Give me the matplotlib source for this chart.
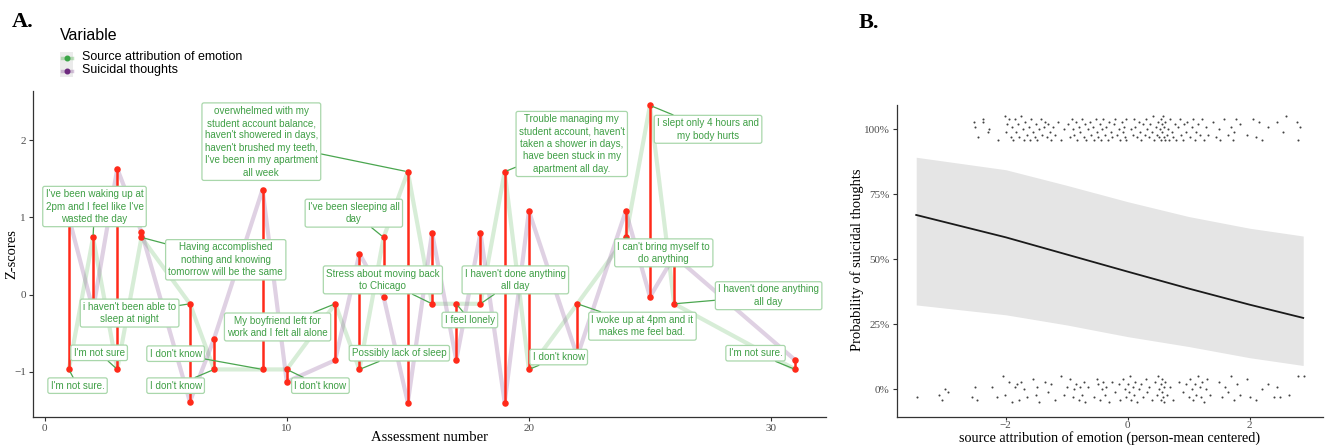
import matplotlib
matplotlib.use("Agg")
import matplotlib.pyplot as plt
from matplotlib.lines import Line2D
from matplotlib.patches import Rectangle

# ---------------- Panel A data ----------------
assessment = [1, 2, 3, 4, 6, 7, 9, 10, 12, 13, 14, 15, 16, 17, 18, 19, 20, 22, 24, 25, 26, 31]
source_attr = [-0.97, 0.74, -0.97, 0.74, -0.12, -0.97, -0.97, -0.97, -0.12, -0.97, 0.74,
               1.59, -0.12, -0.12, -0.12, 1.59, -0.97, -0.12, 0.74, 2.45, -0.12, -0.97]
suicidal = [1.00, -0.20, 1.63, 0.81, -1.39, -0.57, 1.36, -1.13, -0.85, 0.53, -0.03,
            -1.40, 0.80, -0.85, 0.80, -1.40, 1.08, -0.80, 1.08, -0.03, 0.50, -0.85]

# labelled responses (attached to the source-attribution point of an assessment)
label_assessment = [2, 1, 3, 6, 4, 9, 7, 15, 12, 10, 14, 16, 13, 17, 18, 19, 20, 22, 24, 25, 26, 31]
label_text = [
    "I've been waking up at\n2pm and I feel like I've\nwasted the day",
    "I'm not sure.",
    "I'm not sure",
    "i haven't been able to\nsleep at night",
    "Having accomplished\nnothing and knowing\ntomorrow will be the same",
    "I don't know",
    "I don't know",
    "overwhelmed with my\nstudent account balance,\nhaven't showered in days,\nhaven't brushed my teeth,\nI've been in my apartment\nall week",
    "My boyfriend left for\nwork and I felt all alone",
    "I don't know",
    "I've been sleeping all\nday",
    "Stress about moving back\nto Chicago",
    "Possibly lack of sleep",
    "I feel lonely",
    "I haven't done anything\nall day",
    "Trouble managing my\nstudent account, haven't\ntaken a shower in days,\nhave been stuck in my\napartment all day.",
    "I don't know",
    "I woke up at 4pm and it\nmakes me feel bad.",
    "I can't bring myself to\ndo anything",
    "I slept only 4 hours and\nmy body hurts",
    "I haven't done anything\nall day",
    "I'm not sure.",
]
# label box centres (layout, data coordinates)
label_pos = [(2.06, 1.14), (1.36, -1.18), (2.25, -0.755), (3.51, -0.24), (7.48, 0.45),
             (5.41, -0.766), (5.41, -1.18), (8.95, 1.98), (9.62, -0.42), (11.39, -1.18),
             (12.77, 1.054), (13.97, 0.19), (14.65, -0.76), (17.56, -0.33), (19.44, 0.19),
             (21.77, 1.95), (21.23, -0.81), (24.69, -0.41), (25.57, 0.54), (27.40, 2.14),
             (29.90, -0.015), (29.36, -0.76)]

# ---------------- Panel B data ----------------
fit_x = [-3.47, -2.0, -1.0, 0.0, 1.0, 2.0, 2.88]
fit_p = [0.671, 0.585, 0.519, 0.453, 0.388, 0.326, 0.275]
fit_lo = [0.325, 0.287, 0.248, 0.203, 0.165, 0.122, 0.092]
fit_hi = [0.893, 0.845, 0.785, 0.722, 0.665, 0.620, 0.590]

top_x = [-2.52, -2.50, -2.45, -2.38, -2.37, -2.30, -2.28, -2.12,
         -2.02, -2.00, -1.98, -1.95, -1.92, -1.90, -1.88, -1.85, -1.83, -1.80, -1.78, -1.75, -1.72, -1.70,
         -1.68, -1.65, -1.62, -1.60, -1.58, -1.55, -1.52, -1.50, -1.48, -1.45, -1.43, -1.40, -1.38, -1.35,
         -1.33, -1.30, -1.28, -1.25, -1.22, -1.20, -1.15, -1.10, -1.05,
         -0.98, -0.95, -0.92, -0.90, -0.88, -0.85, -0.83, -0.80, -0.78, -0.75, -0.72, -0.70, -0.68, -0.65,
         -0.62, -0.60, -0.57, -0.55, -0.52, -0.50, -0.48, -0.46, -0.44, -0.42, -0.40, -0.38, -0.35, -0.33,
         -0.30, -0.28, -0.25, -0.22, -0.20, -0.18, -0.15, -0.12, -0.10, -0.08, -0.06, -0.05, -0.03, -0.02,
         0.05, 0.08, 0.10, 0.12, 0.15, 0.18, 0.20, 0.22, 0.25, 0.28, 0.30, 0.32, 0.35, 0.37, 0.40, 0.42,
         0.44, 0.46, 0.48, 0.50, 0.52, 0.53, 0.54, 0.55, 0.56, 0.57, 0.58, 0.59, 0.60, 0.61, 0.62, 0.64,
         0.66, 0.68, 0.70, 0.72, 0.75, 0.78, 0.80, 0.83, 0.86, 0.88, 0.90, 0.93, 0.96, 0.98, 1.02, 1.05,
         1.08, 1.10, 1.12, 1.15, 1.18, 1.22, 1.25, 1.28, 1.32, 1.40, 1.45, 1.50, 1.52, 1.58, 1.65, 1.70,
         1.72, 1.75, 1.78, 1.85, 1.95, 2.05, 2.10, 2.15, 2.20, 2.30, 2.45, 2.55, 2.60, 2.78, 2.80, 2.82]
top_y = [1.03, 1.01, 0.97, 1.04, 1.03, 0.99, 1.00, 0.96,
         1.05, 0.99, 1.02, 1.04, 0.97, 1.01, 0.96, 1.04, 0.99, 1.02, 0.97, 1.05, 1.00, 0.96,
         1.03, 0.98, 1.01, 0.96, 1.04, 0.99, 0.97, 1.02, 0.96, 1.00, 1.04, 0.98, 1.01, 1.03,
         0.97, 1.02, 0.99, 0.96, 1.01, 0.98, 1.03, 0.96, 1.00,
         1.02, 0.97, 1.04, 1.00, 0.98, 1.03, 0.96, 1.01, 0.99, 1.04, 0.97, 1.02, 0.96, 1.00,
         1.03, 0.98, 1.01, 0.96, 1.04, 0.99, 0.97, 1.02, 0.96, 1.00, 1.04, 0.98, 1.01, 0.96,
         1.03, 0.99, 0.97, 1.02, 1.04, 0.98, 1.00, 0.96, 1.03, 0.99, 1.01, 0.97, 1.04, 0.96,
         1.00, 0.98, 1.04, 1.01, 0.97, 1.03, 0.99, 0.96, 1.02, 0.98, 1.04, 1.00, 0.97, 1.02, 0.99, 1.05,
         0.96, 1.01, 0.98, 1.03, 0.97, 1.00, 1.04, 0.96, 1.02, 0.99, 1.05, 0.97, 1.01, 0.96, 1.03, 0.98,
         1.00, 0.96, 1.04, 0.99, 0.97, 1.02, 0.96, 1.01, 1.04, 0.98, 0.96, 1.02, 0.99, 1.03, 0.97, 1.01,
         1.04, 0.96, 0.99, 1.02, 0.98, 1.04, 0.96, 1.01, 0.98, 1.03, 0.97, 1.00, 0.96, 1.04, 0.98, 1.01,
         0.96, 0.99, 1.04, 1.02, 0.98, 1.04, 0.97, 1.03, 0.96, 1.01, 1.03, 0.99, 1.05, 1.03, 0.96, 1.01]

bot_x = [-3.45, -3.10, -3.05, -3.00, -2.95, -2.55, -2.50, -2.48, -2.22, -2.15, -2.05, -2.02, -1.95,
         -1.90, -1.85, -1.82, -1.78, -1.75, -1.70, -1.65, -1.55, -1.50, -1.48, -1.45, -1.35, -1.30,
         -1.25, -1.20, -1.10, -1.05, -1.00, -0.95, -0.90, -0.88, -0.85, -0.80, -0.78, -0.75, -0.72,
         -0.70, -0.65, -0.55, -0.50, -0.48, -0.45, -0.42, -0.40, -0.38, -0.35, -0.30, -0.25, -0.20,
         -0.15, -0.12, -0.08, -0.05, -0.02, 0.00, 0.02, 0.04, 0.06, 0.08, 0.10, 0.12, 0.15, 0.18,
         0.22, 0.25, 0.30, 0.32, 0.35, 0.40, 0.45, 0.48, 0.50, 0.52, 0.54, 0.55, 0.56, 0.57, 0.58,
         0.59, 0.60, 0.62, 0.65, 0.70, 0.75, 0.85, 0.90, 0.95, 1.00, 1.02, 1.05, 1.08, 1.10, 1.12,
         1.15, 1.18, 1.20, 1.22, 1.25, 1.28, 1.30, 1.35, 1.50, 1.55, 1.60, 1.65, 1.70, 1.75, 1.80,
         1.85, 1.95, 2.00, 2.10, 2.20, 2.30, 2.40, 2.45, 2.50, 2.65, 2.80, 2.90]
bot_y = [-0.03, -0.02, -0.04, 0.00, -0.01, -0.03, 0.01, -0.04, 0.01, -0.03, 0.05, -0.02, 0.03,
         -0.05, 0.01, 0.02, -0.04, 0.03, 0.00, -0.03, 0.04, -0.02, 0.01, -0.05, 0.03, -0.01,
         0.02, -0.04, 0.05, -0.02, 0.01, 0.04, -0.03, 0.00, 0.02, -0.04, 0.01, -0.02, 0.03,
         -0.05, 0.01, -0.03, 0.04, 0.02, -0.04, 0.00, 0.03, -0.02, 0.01, -0.05, 0.03, -0.01,
         0.02, -0.04, 0.04, 0.00, -0.03, 0.02, -0.01, 0.05, -0.04, 0.01, -0.02, 0.03, -0.05, 0.00,
         0.02, -0.03, 0.04, -0.01, 0.01, -0.04, 0.03, -0.02, 0.05, 0.00, -0.04, 0.02, -0.01, 0.04, -0.03,
         0.01, -0.05, 0.03, -0.02, 0.01, -0.04, 0.03, -0.01, 0.02, -0.03, 0.04, 0.00, -0.04, 0.02, -0.02,
         0.05, 0.01, -0.03, 0.03, -0.05, 0.00, 0.04, -0.02, 0.03, -0.03, 0.01, -0.01, 0.05, -0.04, 0.02,
         -0.02, 0.04, -0.03, -0.04, 0.00, 0.02, -0.03, 0.01, -0.03, -0.02, 0.05, 0.05]

# ---------------- styles ----------------
SERIF = ["Liberation Serif", "DejaVu Serif"]
SANS = ["Liberation Sans", "DejaVu Sans"]
GREEN_LINE = "#4daf4a"
PURPLE_LINE = "#8e5a9c"
RED = "#ff2a1a"
TXT_GREEN = "#3f9f45"
BOX_EDGE = "#a9d7ab"
SEG_GREEN = "#4aa64f"
TICK_COL = "#4d4d4d"
W, H = 1326.0, 445.0

fig = plt.figure(figsize=(13.26, 4.45), dpi=100)

# ---------------- Panel A ----------------
axA = fig.add_axes([33 / W, 1 - 417.3 / H, (826 - 33) / W, (417.3 - 90.7) / H])
axA.plot(assessment, source_attr, color=GREEN_LINE, alpha=0.22, lw=3.0, zorder=1, solid_capstyle="round")
axA.plot(assessment, suicidal, color=PURPLE_LINE, alpha=0.28, lw=3.0, zorder=1, solid_capstyle="round")
axA.vlines(assessment, source_attr, suicidal, color=RED, lw=1.8, zorder=2)
axA.scatter(assessment, source_attr, s=22, color=RED, zorder=3, linewidths=0)
axA.scatter(assessment, suicidal, s=22, color=RED, zorder=3, linewidths=0)

a2i = {a: i for i, a in enumerate(assessment)}
for a, txt, (lx, ly) in zip(label_assessment, label_text, label_pos):
    i = a2i[a]
    axA.annotate(txt, xy=(a, source_attr[i]), xytext=(lx, ly), textcoords="data",
                 ha="center", va="center", fontsize=7.1, color=TXT_GREEN, family=SANS,
                 linespacing=1.3, zorder=6, annotation_clip=False,
                 bbox=dict(boxstyle="round,pad=0.28,rounding_size=0.2", fc="white",
                           ec=BOX_EDGE, lw=0.9),
                 arrowprops=dict(arrowstyle="-", color=SEG_GREEN, lw=0.9,
                                 shrinkA=0, shrinkB=2))

axA.set_xlim(-0.48, 32.27)
axA.set_ylim(-1.59, 2.64)
axA.set_xticks([0, 10, 20, 30])
axA.set_yticks([-1, 0, 1, 2])

# ---------------- Panel B ----------------
axB = fig.add_axes([896.7 / W, 1 - 416.7 / H, (1322.7 - 896.7) / W, (416.7 - 105) / H])
axB.fill_between(fit_x, fit_lo, fit_hi, color="#e5e5e5", lw=0, zorder=1)
axB.plot(fit_x, fit_p, color="#1a1a1a", lw=1.3, zorder=2)
axB.scatter(top_x, top_y, s=2.2, color="#222222", alpha=0.85, linewidths=0, zorder=3)
axB.scatter(bot_x, bot_y, s=2.2, color="#222222", alpha=0.85, linewidths=0, zorder=3)
axB.set_xlim(-3.79, 3.2)
axB.set_ylim(-0.105, 1.094)
axB.set_xticks([-2, 0, 2])
axB.set_yticks([0, 0.25, 0.5, 0.75, 1.0])
axB.set_yticklabels(["0%", "25%", "50%", "75%", "100%"])

for ax in (axA, axB):
    for s in ("top", "right"):
        ax.spines[s].set_visible(False)
    for s in ("left", "bottom"):
        ax.spines[s].set_color("#333333")
        ax.spines[s].set_linewidth(0.9)
    ax.tick_params(axis="both", length=3, width=0.8, color="#333333", labelcolor=TICK_COL,
                   labelsize=8, pad=2)
    for lab in ax.get_xticklabels() + ax.get_yticklabels():
        lab.set_family(SERIF)
axB.tick_params(axis="x", length=2.5, pad=0.5)

# ---------------- axis titles (figure coords) ----------------
fig.text(429.5 / W, 1 - 437.5 / H, "Assessment number", family=SERIF, fontsize=10.5,
         ha="center", va="center")
fig.text(11.5 / W, 1 - 254 / H, "Z-scores", family=SERIF, fontsize=10.5, rotation=90,
         ha="center", va="center")
fig.text(1109.7 / W, 1 - 438.3 / H, "source attribution of emotion (person-mean centered)",
         family=SERIF, fontsize=10.2, ha="center", va="center")
fig.text(857.5 / W, 1 - 260 / H, "Probability of suicidal thoughts", family=SERIF, fontsize=10.5,
         rotation=90, ha="center", va="center")

# ---------------- Panel letters ----------------
fig.text(11.7 / W, 1 - 27 / H, "A.", family=SERIF, fontsize=16, fontweight="bold", ha="left", va="baseline")
fig.text(859 / W, 1 - 28.5 / H, "B.", family=SERIF, fontsize=16, fontweight="bold", ha="left", va="baseline")

# ---------------- Legend (manual) ----------------
fig.text(60 / W, 1 - 35 / H, "Variable", family=SANS, fontsize=11.5, ha="left", va="center")
fig.patches.append(Rectangle((60 / W, 1 - 77 / H), 13.3 / W, 25 / H, transform=fig.transFigure,
                             facecolor="#ebebeb", edgecolor="none"))
for yy, lc, dc, lab in [(57.5, GREEN_LINE, "#3aa547", "Source attribution of emotion"),
                        (70.5, PURPLE_LINE, "#6d2a7e", "Suicidal thoughts")]:
    fig.lines.append(Line2D([61.5 / W, 71.5 / W], [1 - yy / H, 1 - yy / H], transform=fig.transFigure,
                            color=lc, alpha=0.35, lw=2.5))
    fig.lines.append(Line2D([66.6 / W], [1 - yy / H], transform=fig.transFigure, marker="o",
                            markersize=3.3, color=dc, lw=0))
    fig.text(81.5 / W, 1 - yy / H, lab, family=SANS, fontsize=9, ha="left", va="center")

fig.savefig("out.png", dpi=100)
